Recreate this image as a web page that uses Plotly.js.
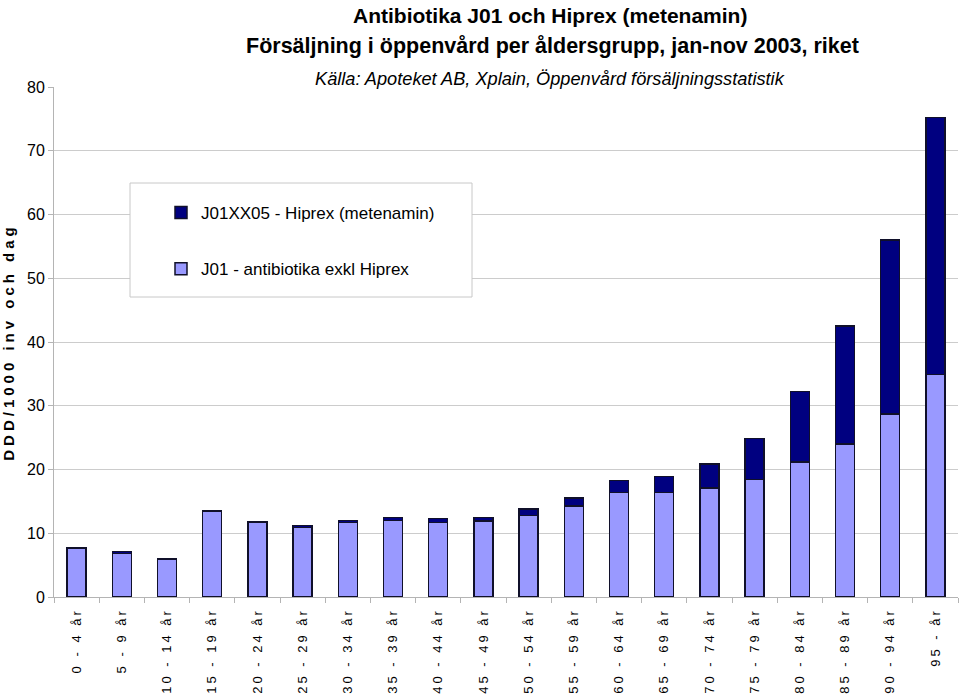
<!DOCTYPE html>
<html>
<head>
<meta charset="utf-8">
<script src="https://cdn.plot.ly/plotly-3.0.1.min.js"></script>
<style>
  html, body { margin: 0; padding: 0; background: #fff; }
  #chart { width: 960px; height: 696px; }
  .xtick text { letter-spacing: 3px; }
  .ytitle { letter-spacing: 4px; }
</style>
</head>
<body>
<div id="chart"></div>
<script>
const categories = ['0 - 4 år','5 - 9 år','10 - 14 år','15 - 19 år','20 - 24 år','25 - 29 år','30 - 34 år','35 - 39 år','40 - 44 år','45 - 49 år','50 - 54 år','55 - 59 år','60 - 64 år','65 - 69 år','70 - 74 år','75 - 79 år','80 - 84 år','85 - 89 år','90 - 94 år','95 - år'];
const j01ExklHiprex = [7.7, 6.8, 6.0, 13.5, 11.8, 10.9, 11.7, 12.0, 11.7, 11.9, 12.8, 14.3, 16.4, 16.4, 17.1, 18.4, 21.2, 24.0, 28.7, 34.9];
const hiprex = [0, 0.3, 0, 0.05, 0.05, 0.3, 0.3, 0.5, 0.6, 0.6, 1.0, 1.2, 1.9, 2.5, 3.8, 6.5, 11.0, 18.5, 27.3, 40.3];
const yTicks = [0, 10, 20, 30, 40, 50, 60, 70, 80];
const gridVals = [10, 20, 30, 40, 50, 60, 70];

const sans = '"Liberation Sans", Arial, sans-serif';

// pixel -> paper helpers (plot area: x 54..958, y 87..597)
const px = v => (v - 54) / 904;
const py = v => (597 - v) / 510;

const traces = [
  {
    type: 'bar', x: categories, y: j01ExklHiprex, name: 'J01 - antibiotika exkl Hiprex',
    legendgroup: 'a', legendrank: 2,
    marker: { color: '#9999ff', line: { color: '#10102a', width: 1.5 } },
    hoverinfo: 'x+y'
  },
  {
    type: 'bar', x: categories, y: hiprex, name: 'J01XX05 - Hiprex (metenamin)',
    legendgroup: 'b', legendrank: 1,
    marker: { color: '#000080', line: { color: '#10102a', width: 1.5 } },
    hoverinfo: 'x+y'
  }
];

const layout = {
  width: 960, height: 696,
  margin: { l: 54, r: 2, t: 87, b: 99 },
  paper_bgcolor: '#fff', plot_bgcolor: '#fff',
  barmode: 'stack', bargap: 0.58,
  showlegend: true,
  legend: {
    x: px(130), y: py(195), xanchor: 'left', yanchor: 'top',
    borderwidth: 0, bgcolor: 'rgba(0,0,0,0)',
    traceorder: 'grouped', tracegroupgap: 31, indentation: 31,
    font: { family: sans, size: 17, color: '#000' }
  },
  shapes: [
    { type: 'rect', xref: 'paper', yref: 'paper', x0: px(130), x1: px(472), y0: py(297), y1: py(183),
      fillcolor: '#ffffff', line: { color: '#c8c8c8', width: 1 }, layer: 'above' }
  ],
  xaxis: {
    type: 'category', tickangle: -90,
    tickfont: { family: sans, size: 13, color: '#000' },
    showline: true, linecolor: '#b4b4b4', linewidth: 1,
    ticks: 'outside', ticklen: 5, tickcolor: '#b4b4b4', tickson: 'boundaries',
    ticklabelstandoff: 5,
    showgrid: false, zeroline: false, fixedrange: true
  },
  yaxis: {
    range: [0, 80], tickmode: 'array', tickvals: yTicks,
    tickfont: { family: sans, size: 16, color: '#000' },
    showline: true, linecolor: '#b4b4b4', linewidth: 1,
    ticks: 'outside', ticklen: 5, tickcolor: '#b4b4b4',
    showgrid: false, zeroline: false,
    minor: { tickmode: 'array', tickvals: gridVals, showgrid: true, gridcolor: '#cccccc', gridwidth: 1, ticks: '' },
    title: { text: 'DDD/1000 inv och dag', font: { family: sans, size: 15, color: '#000', weight: 'bold' }, standoff: 8 },
    fixedrange: true
  },
  annotations: [
    { text: '<b>Antibiotika J01 och Hiprex (metenamin)</b>', xref: 'paper', yref: 'paper',
      x: px(550), y: py(15), xanchor: 'center', yanchor: 'middle', showarrow: false,
      font: { family: sans, size: 21, color: '#000' } },
    { text: '<b>Försäljning i öppenvård per åldersgrupp, jan-nov 2003, riket</b>', xref: 'paper', yref: 'paper',
      x: px(552), y: py(46), xanchor: 'center', yanchor: 'middle', showarrow: false,
      font: { family: sans, size: 21.5, color: '#000' } },
    { text: '<i>Källa: Apoteket AB, Xplain, Öppenvård försäljningsstatistik</i>', xref: 'paper', yref: 'paper',
      x: px(550), y: py(79), xanchor: 'center', yanchor: 'middle', showarrow: false,
      font: { family: sans, size: 18.2, color: '#000' } }
  ]
};

Plotly.newPlot('chart', traces, layout, { displayModeBar: false, staticPlot: true });
</script>
</body>
</html>
